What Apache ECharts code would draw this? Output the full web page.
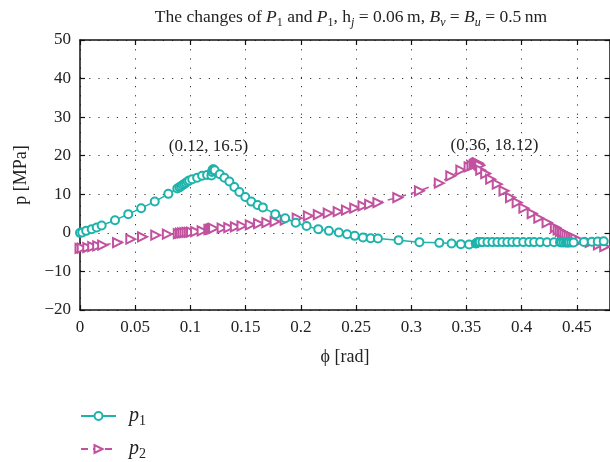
<!DOCTYPE html>
<html>
<head>
<meta charset="utf-8">
<script src="https://cdn.jsdelivr.net/npm/echarts@6/dist/echarts.min.js"></script>
<style>html,body{margin:0;padding:0;background:#fff}#c{width:610px;height:462px}</style>
</head>
<body>
<div id="c"></div>
<script>
// ---- data ----
var xTicks = [0, 0.05, 0.1, 0.15, 0.2, 0.25, 0.3, 0.35, 0.4, 0.45];
var yTicks = [-20, -10, 0, 10, 20, 30, 40, 50];
var p1X = [0, 0.002, 0.0056, 0.0106, 0.0151, 0.0196, 0.0317, 0.0437, 0.0554, 0.0677, 0.08, 0.0881,
  0.090, 0.0915, 0.093, 0.0945, 0.096, 0.0975, 0.099, 0.1016, 0.1061, 0.1106, 0.1151, 0.119,
  0.1195, 0.12, 0.1205, 0.121, 0.122, 0.1266, 0.1308, 0.1353, 0.1398, 0.1443, 0.1497, 0.1551, 0.1608,
  0.1656, 0.1768, 0.1858, 0.1953, 0.2052, 0.2158, 0.2254, 0.2344, 0.2419, 0.2488, 0.2563, 0.2632,
  0.2698, 0.2885, 0.3074, 0.3254, 0.3365, 0.3449, 0.3524, 0.3584, 0.359, 0.3595, 0.36, 0.3605, 0.361,
  0.362, 0.3645, 0.369, 0.3735, 0.378, 0.3825, 0.387, 0.3915, 0.396, 0.4014, 0.4068, 0.4113, 0.4167,
  0.423, 0.4293, 0.4347, 0.436, 0.438, 0.44, 0.441, 0.442, 0.443, 0.445, 0.447, 0.4563, 0.4635, 0.4689, 0.4743];
var p1Y = [0, 0.08, 0.52, 0.96, 1.37, 1.89, 3.29, 4.85, 6.4, 8.11, 10.11, 11.49,
  11.8, 12.1, 12.4, 12.7, 13.0, 13.3, 13.6, 13.9, 14.3, 14.8, 15.0, 14.9,
  15.8, 16.3, 16.5, 16.4, 16.2, 15.2, 14.3, 13.3, 11.9, 10.6, 9.3, 8.1, 7.2,
  6.6, 4.85, 3.8, 2.6, 1.8, 0.96, 0.52, 0.08, -0.34, -0.78, -1.22, -1.37,
  -1.48, -1.89, -2.41, -2.59, -2.77, -2.93, -3.03, -2.77, -2.7, -2.6, -2.5, -2.45, -2.4,
  -2.4, -2.4, -2.4, -2.4, -2.4, -2.4, -2.4, -2.4, -2.4, -2.4, -2.4, -2.4, -2.4,
  -2.45, -2.45, -2.45, -2.5, -2.5, -2.5, -2.5, -2.5, -2.5, -2.5, -2.5, -2.35, -2.3, -2.25, -2.2];
var p2X = [0, 0.002, 0.007, 0.0115, 0.016, 0.0205, 0.034, 0.046, 0.0566, 0.0686, 0.0791,
  0.089, 0.091, 0.093, 0.095, 0.097, 0.099, 0.101, 0.1047, 0.1106, 0.1167, 0.118, 0.119, 0.12, 0.121,
  0.1287, 0.1347, 0.1407, 0.1467, 0.1542, 0.1617, 0.1692, 0.1767, 0.1858, 0.1967, 0.2068, 0.2158,
  0.2248, 0.2338, 0.2413, 0.2488, 0.2563, 0.2623, 0.2698, 0.2878, 0.3074, 0.3254, 0.3358, 0.3449,
  0.3524, 0.355, 0.357, 0.358, 0.359, 0.36, 0.3605, 0.361, 0.362, 0.3629, 0.3674, 0.3719, 0.3779,
  0.384, 0.3899, 0.3959, 0.402, 0.4095, 0.4155, 0.423, 0.4305, 0.433, 0.435, 0.437, 0.439, 0.441,
  0.443, 0.445, 0.447, 0.449, 0.453, 0.462, 0.4695, 0.4752];
var p2Y = [-4.0, -3.97, -3.8, -3.55, -3.37, -3.19, -2.51, -1.63, -1.04, -0.6, -0.34,
  -0.2, -0.1, 0, 0.05, 0.1, 0.15, 0.2, 0.34, 0.52, 0.86, 0.9, 1.0, 1.1, 1.15,
  1.22, 1.37, 1.56, 1.81, 2.07, 2.41, 2.67, 2.93, 3.29, 3.81, 4.4, 4.75,
  5.11, 5.48, 5.89, 6.4, 7.0, 7.4, 7.86, 9.15, 10.89, 12.89, 14.78, 16.26,
  17.11, 17.4, 17.7, 17.9, 18.0, 18.12, 18.0, 17.8, 17.5, 16.26, 15.37, 13.92, 12.63,
  10.89, 9.15, 7.86, 6.4, 5.0, 3.81, 2.67, 1.37, 0.8, 0.4, 0.1, -0.2, -0.5,
  -0.8, -1.0, -1.3, -1.5, -2.07, -2.5, -3.1, -3.6];
var peaks1 = [0.12, 16.5];
var peaks2 = [0.36, 18.12];
var labels1 = '(0.12, 16.5)';
var labels2 = '(0.36, 18.12)';

function zip(a, b) { return a.map(function (v, i) { return [v, b[i]]; }); }

var FONT = 'Liberation Serif';
var C1 = '#1db3ab', C2 = '#c2519f';
var subRich = {
  n: { fontFamily: FONT, fontSize: 17.5, fontWeight: 'normal', lineHeight: 24, color: '#222', verticalAlign: 'middle' },
  i: { fontFamily: FONT, fontSize: 17.5, fontWeight: 'normal', lineHeight: 24, color: '#222', fontStyle: 'italic', verticalAlign: 'middle' },
  s: { fontFamily: FONT, fontSize: 12, fontWeight: 'normal', lineHeight: 12, color: '#222', verticalAlign: 'bottom' },
  si: { fontFamily: FONT, fontSize: 12, fontWeight: 'normal', lineHeight: 12, color: '#222', fontStyle: 'italic', verticalAlign: 'bottom' }
};
var legendRich = {
  i: { fontFamily: FONT, fontSize: 20, lineHeight: 24, fontStyle: 'italic', color: '#222', verticalAlign: 'middle', padding: [0, 0, 0, 8] },
  s: { fontFamily: FONT, fontSize: 14, lineHeight: 14, color: '#222', verticalAlign: 'bottom' }
};
function legendFmt(n) { return '{i|p}{s|' + n.slice(1) + '}'; }

var chart = echarts.init(document.getElementById('c'), null, { renderer: 'canvas' });
var splitStyle = { show: true, lineStyle: { color: '#333', width: 1, type: [1.2, 8] } };
var axisCommon = {
  type: 'value',
  axisLine: { show: true, onZero: false, lineStyle: { color: '#111', width: 1.5 } },
  axisTick: { show: true, inside: true, length: 5, lineStyle: { color: '#111', width: 1.2 } }
};
chart.setOption({
  animation: false,
  backgroundColor: '#fff',
  title: {
    text: '{n|The changes of }{i|P}{s|1}{n| and }{i|P}{s|1}{n|, h}{si|j}{n| = 0.06\u2009m, }{i|B}{si|v}{n| = }{i|B}{si|u}{n| = 0.5\u2009nm}',
    left: 346, top: 0, textAlign: 'center',
    textStyle: { fontWeight: 'normal', rich: subRich }
  },
  grid: { left: 80, top: 40, width: 531, height: 270 },
  legend: [
    { left: 80, top: 406, padding: 0, itemWidth: 35, itemHeight: 10, data: ['p1'], formatter: legendFmt,
      textStyle: { rich: legendRich } },
    { left: 80, top: 439, padding: 0, itemWidth: 35, itemHeight: 10, data: ['p2'], formatter: legendFmt,
      textStyle: { rich: legendRich } }
  ],
  xAxis: [
    Object.assign({}, axisCommon, {
      min: 0, max: 0.48, interval: 0.05, position: 'bottom',
      name: '\u03d5 [rad]', nameLocation: 'middle', nameGap: 38,
      nameTextStyle: { fontFamily: FONT, fontSize: 18, color: '#222' },
      axisLabel: { fontFamily: FONT, fontSize: 17, color: '#222', margin: 9, showMaxLabel: false,
        formatter: function (v) { return xTicks.indexOf(Math.round(v * 100) / 100) >= 0 ? String(Math.round(v * 100) / 100) : ''; } },
      splitLine: splitStyle
    }),
    Object.assign({}, axisCommon, {
      min: 0, max: 0.48, interval: 0.05, position: 'top',
      axisLabel: { show: false }, splitLine: { show: false }
    })
  ],
  yAxis: [
    Object.assign({}, axisCommon, {
      min: yTicks[0], max: yTicks[yTicks.length - 1], interval: 10, position: 'left',
      name: 'p [MPa]', nameLocation: 'middle', nameGap: 50,
      nameTextStyle: { fontFamily: FONT, fontSize: 18, color: '#222' },
      axisLabel: { fontFamily: FONT, fontSize: 17, color: '#222', margin: 9,
        formatter: function (v) { return v < 0 ? '\u2212' + (-v) : String(v); } },
      splitLine: splitStyle
    }),
    Object.assign({}, axisCommon, {
      min: yTicks[0], max: yTicks[yTicks.length - 1], interval: 10, position: 'right',
      axisLabel: { show: false }, splitLine: { show: false }
    })
  ],
  series: [
    {
      name: 'p1', type: 'line', data: zip(p1X, p1Y),
      symbol: 'emptyCircle', symbolSize: 8, showAllSymbol: true,
      lineStyle: { color: C1, width: 1.5 },
      itemStyle: { color: C1, borderColor: C1, borderWidth: 1.3 },
      markPoint: {
        symbol: 'circle', symbolSize: 0,
        data: [{ coord: peaks1 }],
        label: { show: true, formatter: labels1, position: 'inside', offset: [-4, -23],
          fontFamily: FONT, fontSize: 17, color: '#222' }
      },
      z: 3
    },
    {
      name: 'p2', type: 'line', data: zip(p2X, p2Y),
      symbol: 'emptyTriangle', symbolSize: 9, symbolRotate: -90, showAllSymbol: true,
      lineStyle: { color: C2, width: 1.5, type: [7, 5] },
      itemStyle: { color: C2, borderColor: C2, borderWidth: 1.3 },
      markPoint: {
        symbol: 'circle', symbolSize: 0,
        data: [{ coord: peaks2 }],
        label: { show: true, formatter: labels2, position: 'inside', offset: [17, -17],
          fontFamily: FONT, fontSize: 17, color: '#222' }
      },
      z: 2
    }
  ]
});
</script>
</body>
</html>
